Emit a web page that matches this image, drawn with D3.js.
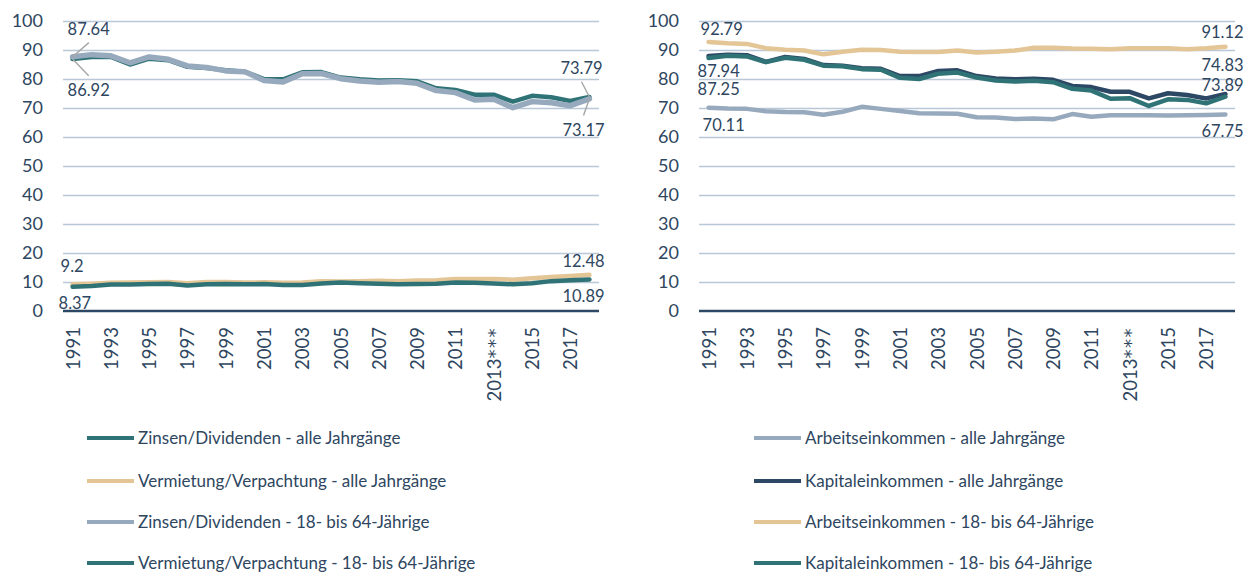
<!DOCTYPE html>
<html><head><meta charset="utf-8">
<script src="https://cdn.jsdelivr.net/npm/d3@7"></script>
<style>
html,body{margin:0;padding:0;background:#fff;}
svg text{font-family:Lato, "Open Sans", sans-serif; fill:#2e4660;}
</style></head>
<body><svg id="chart" width="1254" height="573"></svg>
<script>
// ---------- DATA ----------
const categories = ["1991","1992","1993","1994","1995","1996","1997","1998","1999","2000","2001","2002","2003","2004","2005","2006","2007","2008","2009","2010","2011","2012","2013***","2014","2015","2016","2017","2018"];
const yTicks = [0,10,20,30,40,50,60,70,80,90,100];

// left panel
const zinsenAlle      = [86.92,87.6,87.6,85.0,87.0,86.5,84.2,83.8,83.0,82.5,80.0,79.9,82.3,82.4,80.5,79.9,79.5,79.6,79.2,76.8,76.2,74.6,74.6,72.2,74.2,73.7,72.4,73.79];
const vermietungAlle  = [9.2,9.4,9.7,9.8,9.9,10.0,9.6,10.0,10.0,9.8,9.9,9.7,9.8,10.3,10.2,10.3,10.4,10.3,10.5,10.6,11.0,11.0,11.0,10.8,11.3,11.7,12.1,12.48];
const zinsen1864      = [87.64,88.4,88.0,85.6,87.6,86.8,84.5,84.0,82.8,82.5,79.5,79.0,81.8,81.9,80.1,79.3,78.9,79.1,78.5,76.0,75.3,72.8,73.0,70.1,72.2,71.8,70.8,73.17];
const vermietung1864  = [8.37,8.6,9.1,9.1,9.3,9.4,8.8,9.2,9.3,9.2,9.3,9.0,9.0,9.5,9.8,9.6,9.4,9.2,9.3,9.4,9.8,9.7,9.5,9.2,9.6,10.3,10.6,10.89];

// right panel
const arbeitAlle      = [70.11,69.8,69.7,68.9,68.6,68.5,67.7,68.7,70.4,69.7,69.0,68.2,68.1,68.0,66.8,66.7,66.2,66.4,66.1,67.9,67.0,67.5,67.5,67.5,67.4,67.5,67.6,67.75];
const kapitalAlle     = [87.94,88.4,88.2,85.9,87.6,86.9,84.8,84.6,83.7,83.5,81.0,81.0,82.8,83.0,81.0,80.2,79.9,80.1,79.7,77.6,77.2,75.6,75.6,73.3,75.1,74.5,73.3,74.83];
const arbeit1864      = [92.79,92.3,92.1,90.6,90.1,89.8,88.5,89.4,90.1,90.0,89.4,89.3,89.3,89.8,89.1,89.4,89.8,90.8,90.8,90.5,90.4,90.3,90.6,90.6,90.6,90.3,90.6,91.12];
const kapital1864     = [87.25,88.0,87.8,85.8,87.3,86.6,84.6,84.4,83.4,83.2,80.4,80.0,81.8,82.2,80.5,79.5,79.1,79.4,78.9,76.6,76.0,73.2,73.4,70.7,73.0,72.8,71.6,73.89];

const leftNames  = ["Zinsen/Dividenden - alle Jahrgänge","Vermietung/Verpachtung - alle Jahrgänge","Zinsen/Dividenden - 18- bis 64-Jährige","Vermietung/Verpachtung - 18- bis 64-Jährige"];
const rightNames = ["Arbeitseinkommen - alle Jahrgänge","Kapitaleinkommen - alle Jahrgänge","Arbeitseinkommen - 18- bis 64-Jährige","Kapitaleinkommen - 18- bis 64-Jährige"];

// ---------- STYLE ----------
const C = {teal:"#2f7376", tan:"#e3c596", grey:"#97aabd", navy:"#2c4864"};
const leftSeries = [
  {name:leftNames[0], values:zinsenAlle, color:C.teal, w:4.5},
  {name:leftNames[1], values:vermietungAlle, color:C.tan, w:4.5},
  {name:leftNames[2], values:zinsen1864, color:C.grey, w:5.5},
  {name:leftNames[3], values:vermietung1864, color:C.teal, w:4.5}
];
const rightSeries = [
  {name:rightNames[0], values:arbeitAlle, color:C.grey, w:4.5},
  {name:rightNames[1], values:kapitalAlle, color:C.navy, w:4.5},
  {name:rightNames[2], values:arbeit1864, color:C.tan, w:4.5},
  {name:rightNames[3], values:kapital1864, color:C.teal, w:4.5}
];
// data label placement: [seriesIdx, pointIdx, dx(left edge from point), dy(center from point), leader]
const leftLabels = [[2,0,-5,-28,true],[0,0,-5,31,true],[0,27,-29,-29,true],[2,27,-27,31,true],[1,0,-12,-18,false],[3,0,-14,16,false],[1,27,-27,-14,false],[3,27,-27,17,false]];
const rightLabels = [[2,0,-8,-13,false],[1,0,-11,15,false],[3,0,-11,31,false],[0,0,-6,18,false],[2,27,-24,-15,false],[1,27,-24,-29,false],[3,27,-24,-11,false],[0,27,-24,17,false]];

const svg = d3.select("#chart");
const plotTop = 21, plotBottom = 311;
const y = d3.scaleLinear().domain([0,100]).range([plotBottom, plotTop]);

function panel(x0, x1, series, labels, legendX){
  const x = d3.scalePoint().domain(categories).range([x0, x1]).padding(0.5);
  const g = svg.append("g");
  // gridlines
  g.append("g").attr("transform",`translate(${x0},0)`)
    .call(d3.axisLeft(y).tickValues(yTicks.filter(t=>t>0)).tickSize(-(x1-x0)).tickFormat(""))
    .call(s=>{s.select(".domain").remove(); s.selectAll("line").attr("stroke","#b9c8d7").attr("stroke-width",1.3);});
  // y labels
  g.append("g").attr("transform",`translate(${x0-20},0)`)
    .call(d3.axisLeft(y).tickValues(yTicks).tickSize(0).tickPadding(0))
    .call(s=>{s.select(".domain").remove(); s.selectAll("text").attr("font-size",18).attr("fill","#2e4660").attr("font-family","Lato");});
  // x axis
  const xa = g.append("g").attr("transform",`translate(0,${plotBottom})`)
    .call(d3.axisBottom(x).tickSize(0).tickFormat((d,i)=> i%2===0 ? d : ""));
  xa.select(".domain").attr("stroke","#2c4864").attr("stroke-width",2.6).attr("d",`M${x0},0H${x1}`);
  xa.selectAll("text").attr("font-size",18.5).attr("font-family","Lato").attr("fill","#2e4660")
    .attr("text-anchor","end").attr("transform","rotate(-90)").attr("x",-16).attr("y",0).attr("dy","0.35em");
  // enlarge asterisks (Lato's are tiny)
  xa.selectAll("text").filter(d=>d.includes("*")).each(function(d){
    const t = d3.select(this); const base = d.replace(/\*+/,""); const stars = d.slice(base.length);
    t.text(base); t.append("tspan").attr("font-family","DejaVu Sans").attr("font-size",18).attr("letter-spacing",1.5).text(stars);
  });
  // lines
  const line = d3.line().x((d,i)=>x(categories[i])).y(d=>y(d)).curve(d3.curveLinear);
  series.forEach(s=>{
    g.append("path").attr("d",line(s.values)).attr("fill","none").attr("stroke",s.color)
      .attr("stroke-width",s.w).attr("stroke-linejoin","round").attr("stroke-linecap","round");
  });
  // data labels
  labels.forEach(([si,pi,dx,dy,leader])=>{
    const v = series[si].values[pi];
    const px = x(categories[pi]), py = y(v);
    const t = g.append("text").attr("x",px+dx).attr("y",py+dy).attr("dy","0.35em")
      .attr("font-size",16.5).attr("font-family","Lato").text(String(v));
    if(leader){
      const bb = t.node().getBBox();
      const ly = dy<0 ? bb.y+bb.height+4 : bb.y-4;
      const lx = bb.x + bb.width/2;
      g.append("line").attr("x1",lx).attr("y1",ly).attr("x2",px).attr("y2",py)
        .attr("stroke","#a6a6a6").attr("stroke-width",1.4);
    }
  });
  // legend
  const rows = [438,481,522,563];
  series.forEach((s,i)=>{
    g.append("line").attr("x1",legendX).attr("x2",legendX+47).attr("y1",rows[i]).attr("y2",rows[i])
      .attr("stroke",s.color).attr("stroke-width",4);
    g.append("text").attr("x",legendX+51).attr("y",rows[i]).attr("dy","0.35em")
      .attr("font-size",17).attr("font-family","Lato").text(s.name);
  });
}
panel(63, 599, leftSeries, leftLabels, 87);
panel(699, 1235, rightSeries, rightLabels, 754);
</script></body></html>
